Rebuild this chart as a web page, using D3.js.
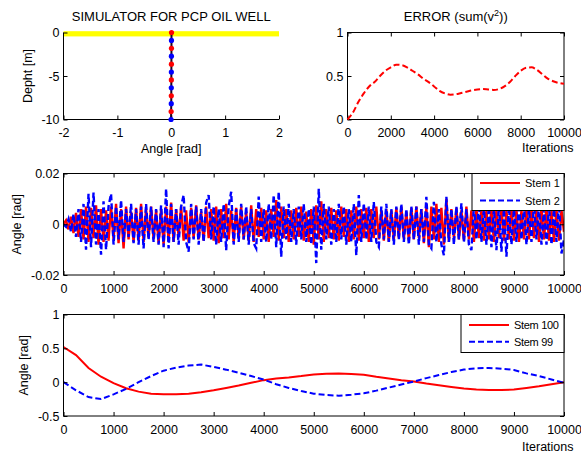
<!DOCTYPE html>
<html>
<head>
<meta charset="utf-8">
<script src="https://cdn.jsdelivr.net/npm/d3@7"></script>
<style>
  body { margin: 0; background: #fff; }
  svg { display: block; font-family: "Liberation Sans", Arial, sans-serif; }
</style>
</head>
<body>
<svg id="chart" width="581" height="453"></svg>
<script>
// ---------- data ----------
// Well profile: 12 stem nodes from surface to 10 m depth, current angle of each
const stemDepths = [0, -0.909, -1.818, -2.727, -3.636, -4.545, -5.455, -6.364, -7.273, -8.182, -9.091, -10];
const stemAngles = [0.005, 0.004, 0.004, 0.003, 0.003, 0.002, 0.002, 0.001, 0.001, 0.0, -0.002, -0.004];
const groundBand = [0.15, -0.45];          // surface level band (depth, m)
const wellXTicks = [-2, -1, 0, 1, 2];
const wellYTicks = [-10, -5, 0];

// Error sum(v^2) against iterations
const errIter = d3.range(0, 10001, 250);
const errValue = [0, 0.08, 0.2, 0.3, 0.38, 0.43, 0.5, 0.56, 0.6, 0.63, 0.625, 0.6, 0.56, 0.52,
  0.47, 0.43, 0.38, 0.33, 0.3, 0.285, 0.29, 0.305, 0.32, 0.335, 0.345, 0.35, 0.345, 0.34,
  0.35, 0.38, 0.43, 0.5, 0.56, 0.595, 0.6, 0.57, 0.52, 0.47, 0.44, 0.42, 0.41];
const errXTicks = [0, 2000, 4000, 6000, 8000, 10000];
const errYTicks = [0, 0.5, 1];

// Stem 1 / Stem 2 angles (mrad), one sample every 50 iterations
const fastIter = d3.range(0, 10001, 50);
const stem1MilliRad = [
  0, 1.5, -2, 3, -3.5, 4.5, -5, 6, -6, 7,
  -7, 6.5, -5.5, 7.5, -8, 6, -7, 5.5, -6.5, 7,
  -6, 8, -7.5, 6, -9.5, 7, -6, 5, -7, 6.5,
  -6.5, 8, -7, 6, -5.5, 7, -6, 5.5, -7.5, 6,
  -8, 7, -6.5, 8.5, -7, 6, -5, 7, -6.5, 5.5,
  -7, 6.5, -5.5, 7.5, -6, 5, -6.5, 7, -5.5, 6,
  -6.5, 7, -7.5, 6, -5.5, 8, -6, 5.5, -7, 6.5,
  -5.5, 7, -6, 5, -6.5, 7.5, -7, 6, -5, 6.5,
  -6, 5.5, -7, 6, -5, 9.5, -6.5, 7, -5.5, 6,
  -7, 5.5, -6, 6.5, -5, 7, -6.5, 5, -7, 6,
  -8, 7.5, -6, 9, -7, 6, -5.5, 6.5, -6, 5.5,
  -6.5, 7, -5, 6, -7, 5.5, -6, 7, -6.5, 6,
  -5.5, 6.5, -7, 6, -5.5, 7, -6, 5.5, -6.5, 6,
  -7, 5.5, -6, 6.5, -5.5, 7, -6, 5, -6.5, 6.5,
  -6, 7, -5.5, 6, -7.5, 6.5, -9, 7, -6, 8,
  -7, 6.5, -8, 10, -7, 6, -5.5, 6.5, -6, 5.5,
  -6.5, 7, -6, 5.5, -7, 6.5, -5.5, 6, -6.5, 5.5,
  -6, 6.5, -7, 6, -5.5, 7, -6.5, 5.5, -6, 6.5,
  -6.5, 6, -7, 5.5, -6, 7, -6, 6.5, -5.5, 6,
  -7, 6.5, -6, 7, -6.5, 5.5, -7, 6, -6.5, 5.5, -3
];
const stem2MilliRad = [
  0, -1, 2, -3, 4, -5, 6, -7, 8, -10,
  12, -9, 12.5, -8, 6, -12, 9, -10, 7, 12,
  -8, 7, -6, 9.5, -7, 6, -5, 8, -7.5, 6,
  -8, 7, -9.5, 8, -6, 7, -7, 6, -8, 7.5,
  -9, 14, -9.5, 8, -7, 6, -8, 7, 11.5, -7,
  -10.8, 8, -6, 7, -8, 6, -7, 8.5, 11.5, -6,
  7, -8, 6, -7, 8, -10.2, 7, 12.8, -8, 6,
  -7, 8, -6, 7, -8, 6, -7.5, -9.5, 10.9, -7,
  6, -7, 8, -6, 11.5, -9, 12.8, -12.8, 7, -6,
  8, -7, 6, -8, 7, -6, 8, -7, 6, -8,
  7, -15.3, 14, -10, 8, -6, 7, -8, 6, -7,
  8, -6, 7, -8, 6, -7, 8, -12.2, 11.5, -7,
  8.2, -6, 7, -7, 8.8, -7, -8.9, 7, -6, 8,
  -7, 6, -8, 7, -6, 8, -7, 6, -8, 7,
  -6, 7, -8, 6, -7, 10.8, -8, -9.5, 8.8, -7,
  6, -8, -12.2, 10.8, -7, 6, -8, 7, -6, 8.2,
  -7, 6, -8, -10.2, 7, -6, 8, -7, 6, -8,
  7, -9, 6, -10.2, 7, -10.8, 6, -12.8, 7, -8,
  6, -7, 8, -6, 7, -8, 6, -7, 8, -6,
  7, -8, 6, -8, 7, -8, 6, -7, 8, -11.5, -6
];
const fastYTicks = [-0.02, 0, 0.02];

// Stem 100 / Stem 99 angles (rad), one sample every 250 iterations
const slowIter = d3.range(0, 10001, 250);
const stem100 = [0.52, 0.40, 0.21, 0.08, -0.015, -0.09, -0.14, -0.17, -0.18, -0.18, -0.17,
  -0.15, -0.12, -0.085, -0.05, -0.01, 0.03, 0.055, 0.07, 0.09, 0.115, 0.125, 0.127, 0.12,
  0.11, 0.08, 0.055, 0.03, 0.01, -0.02, -0.045, -0.07, -0.095, -0.11, -0.115, -0.115,
  -0.11, -0.085, -0.06, -0.03, 0.0];
const stem99 = [0, -0.12, -0.22, -0.25, -0.18, -0.10, 0.0, 0.09, 0.17, 0.215, 0.245,
  0.26, 0.225, 0.185, 0.14, 0.09, 0.038, -0.03, -0.085, -0.13, -0.17, -0.19, -0.2, -0.185,
  -0.165, -0.125, -0.08, -0.035, 0.01, 0.06, 0.105, 0.15, 0.186, 0.205, 0.21, 0.2, 0.18,
  0.13, 0.09, 0.04, -0.01];
const slowYTicks = [-0.5, 0, 0.5, 1];
const iterTicks = d3.range(0, 10001, 1000);

// ---------- drawing ----------
const svg = d3.select("#chart");
const RED = "#ff0000", BLUE = "#0000ff";
const FS = 12.5;
const fmt = d => String(d);

function tickAxes(g, x, y, xt, yt, w, h, box) {
  g.append("g").attr("transform", `translate(0,${h})`)
    .call(d3.axisBottom(x).tickValues(xt).tickFormat(fmt).tickSizeInner(-4).tickSizeOuter(0).tickPadding(9));
  g.append("g")
    .call(d3.axisLeft(y).tickValues(yt).tickFormat(fmt).tickSizeInner(-4).tickSizeOuter(0).tickPadding(4));
  if (box) {
    g.append("g").call(d3.axisTop(x).tickValues(xt).tickFormat("").tickSizeInner(-4).tickSizeOuter(0));
    g.append("g").attr("transform", `translate(${w},0)`)
      .call(d3.axisRight(y).tickValues(yt).tickFormat("").tickSizeInner(-4).tickSizeOuter(0));
  }
  g.selectAll(".domain").remove();
  g.selectAll(".tick line").attr("stroke", "#000");
  g.selectAll(".tick text").attr("font-size", FS).attr("fill", "#000")
    .attr("font-family", "Liberation Sans, Arial, sans-serif");
  if (box) {
    g.append("rect").attr("width", w).attr("height", h)
      .attr("fill", "none").attr("stroke", "#000").attr("stroke-width", 1);
  } else {
    g.append("path").attr("d", `M0,0V${h}H${w}`).attr("fill", "none").attr("stroke", "#000");
  }
}

function panel(left, top) {
  return svg.append("g").attr("transform", `translate(${left},${top})`);
}

function clipFor(id, w, h) {
  svg.append("clipPath").attr("id", id).append("rect").attr("width", w).attr("height", h);
  return `url(#${id})`;
}

function text(g, str, x, y, opts = {}) {
  const t = g.append("text").attr("x", x).attr("y", y).attr("font-size", opts.size || FS)
    .attr("text-anchor", opts.anchor || "middle").attr("fill", "#000").text(str);
  if (opts.rotate) t.attr("transform", `rotate(-90,${x},${y})`);
  return t;
}

// Panel 1: well profile
{
  const W = 215.5, H = 87;
  const g = panel(63.5, 32.5);
  const x = d3.scaleLinear().domain([-2, 2]).range([0, W]);
  const y = d3.scaleLinear().domain([-10, 0]).range([H, 0]);
  g.append("rect").attr("x", 0).attr("width", W)
    .attr("y", y(groundBand[0])).attr("height", y(groundBand[1]) - y(groundBand[0]))
    .attr("fill", "#ffff00");
  tickAxes(g, x, y, wellXTicks, wellYTicks, W, H, false);
  const pts = stemDepths.map((d, i) => [stemAngles[i], d]);
  g.append("path").datum(pts)
    .attr("d", d3.line().x(d => x(d[0])).y(d => y(d[1])))
    .attr("fill", "none").attr("stroke", "#1a0620").attr("stroke-width", 2);
  g.selectAll("circle.node").data(pts).join("circle")
    .attr("cx", d => x(d[0])).attr("cy", d => y(d[1])).attr("r", 2.6)
    .attr("fill", (d, i) => i % 2 === 0 ? RED : BLUE);
  text(g, "SIMULATOR FOR PCP OIL WELL", W / 2, -12, { size: 13 });
  text(g, "Angle [rad]", W / 2, 120);
  text(g, "Depht [m]", -32, H / 2, { rotate: true });
}

// Panel 2: error
{
  const W = 216.5, H = 87;
  const g = panel(347.5, 32.5);
  const x = d3.scaleLinear().domain([0, 10000]).range([0, W]);
  const y = d3.scaleLinear().domain([0, 1]).range([H, 0]);
  tickAxes(g, x, y, errXTicks, errYTicks, W, H, true);
  g.append("path").datum(errIter.map((t, i) => [t, errValue[i]]))
    .attr("d", d3.line().x(d => x(d[0])).y(d => y(d[1])).curve(d3.curveMonotoneX))
    .attr("fill", "none").attr("stroke", RED).attr("stroke-width", 2).attr("stroke-dasharray", "6,3");
  const t = text(g, "ERROR (sum(v", W / 2, -12, { size: 13 });
  t.append("tspan").attr("font-size", 9).attr("dy", -5).text("2");
  t.append("tspan").attr("dy", 5).text("))");
  text(g, "Iterations", 226, 119, { anchor: "end" });
}

// Panel 3: Stem 1 / Stem 2
{
  const W = 500.5, H = 101.5;
  const g = panel(63.5, 173.5);
  const x = d3.scaleLinear().domain([0, 10000]).range([0, W]);
  const y = d3.scaleLinear().domain([-0.02, 0.02]).range([H, 0]);
  const clip = clipFor("clip3", W, H);
  const line = d3.line().x(d => x(d[0])).y(d => y(d[1]));
  const s1 = fastIter.map((t, i) => [t, stem1MilliRad[i] / 1000]);
  const s2 = fastIter.map((t, i) => [t, stem2MilliRad[i] / 1000]);
  const lines = g.append("g").attr("clip-path", clip);
  lines.append("path").datum(s1).attr("d", line)
    .attr("fill", "none").attr("stroke", RED).attr("stroke-width", 2.4);
  lines.append("path").datum(s2).attr("d", line)
    .attr("fill", "none").attr("stroke", BLUE).attr("stroke-width", 2.4).attr("stroke-dasharray", "6,3");
  tickAxes(g, x, y, iterTicks, fastYTicks, W, H, true);
  text(g, "Angle [rad]", -43, H / 2, { rotate: true });
  // legend
  const lg = g.append("g").attr("transform", `translate(${W - 92},0)`);
  lg.append("rect").attr("width", 92).attr("height", 37).attr("fill", "#fff").attr("stroke", "#000");
  [["Stem 1", RED, null], ["Stem 2", BLUE, "6,3"]].forEach(([label, c, dash], i) => {
    const yy = 9.5 + i * 17.5;
    const ln = lg.append("line").attr("x1", 8).attr("x2", 48).attr("y1", yy).attr("y2", yy)
      .attr("stroke", c).attr("stroke-width", 2);
    if (dash) ln.attr("stroke-dasharray", dash);
    text(lg, label, 53, yy + 4, { anchor: "start", size: 11 });
  });
}

// Panel 4: Stem 100 / Stem 99
{
  const W = 500.5, H = 101.5;
  const g = panel(63.5, 314.5);
  const x = d3.scaleLinear().domain([0, 10000]).range([0, W]);
  const y = d3.scaleLinear().domain([-0.5, 1]).range([H, 0]);
  const line = d3.line().x(d => x(d[0])).y(d => y(d[1]));
  g.append("path").datum(slowIter.map((t, i) => [t, stem100[i]])).attr("d", line)
    .attr("fill", "none").attr("stroke", RED).attr("stroke-width", 2);
  g.append("path").datum(slowIter.map((t, i) => [t, stem99[i]])).attr("d", line)
    .attr("fill", "none").attr("stroke", BLUE).attr("stroke-width", 2).attr("stroke-dasharray", "6,3");
  tickAxes(g, x, y, iterTicks, slowYTicks, W, H, true);
  text(g, "Angle [rad]", -36, H / 2, { rotate: true });
  text(g, "Iterations", 510, 136, { anchor: "end" });
  const lg = g.append("g").attr("transform", `translate(${W - 103},0)`);
  lg.append("rect").attr("width", 103).attr("height", 38).attr("fill", "#fff").attr("stroke", "#000");
  [["Stem 100", RED, null], ["Stem 99", BLUE, "6,3"]].forEach(([label, c, dash], i) => {
    const yy = 10.5 + i * 16.7;
    const ln = lg.append("line").attr("x1", 8).attr("x2", 48).attr("y1", yy).attr("y2", yy)
      .attr("stroke", c).attr("stroke-width", 2);
    if (dash) ln.attr("stroke-dasharray", dash);
    text(lg, label, 53, yy + 4, { anchor: "start", size: 11 }).attr("letter-spacing", -0.3);
  });
}
</script>
</body>
</html>
